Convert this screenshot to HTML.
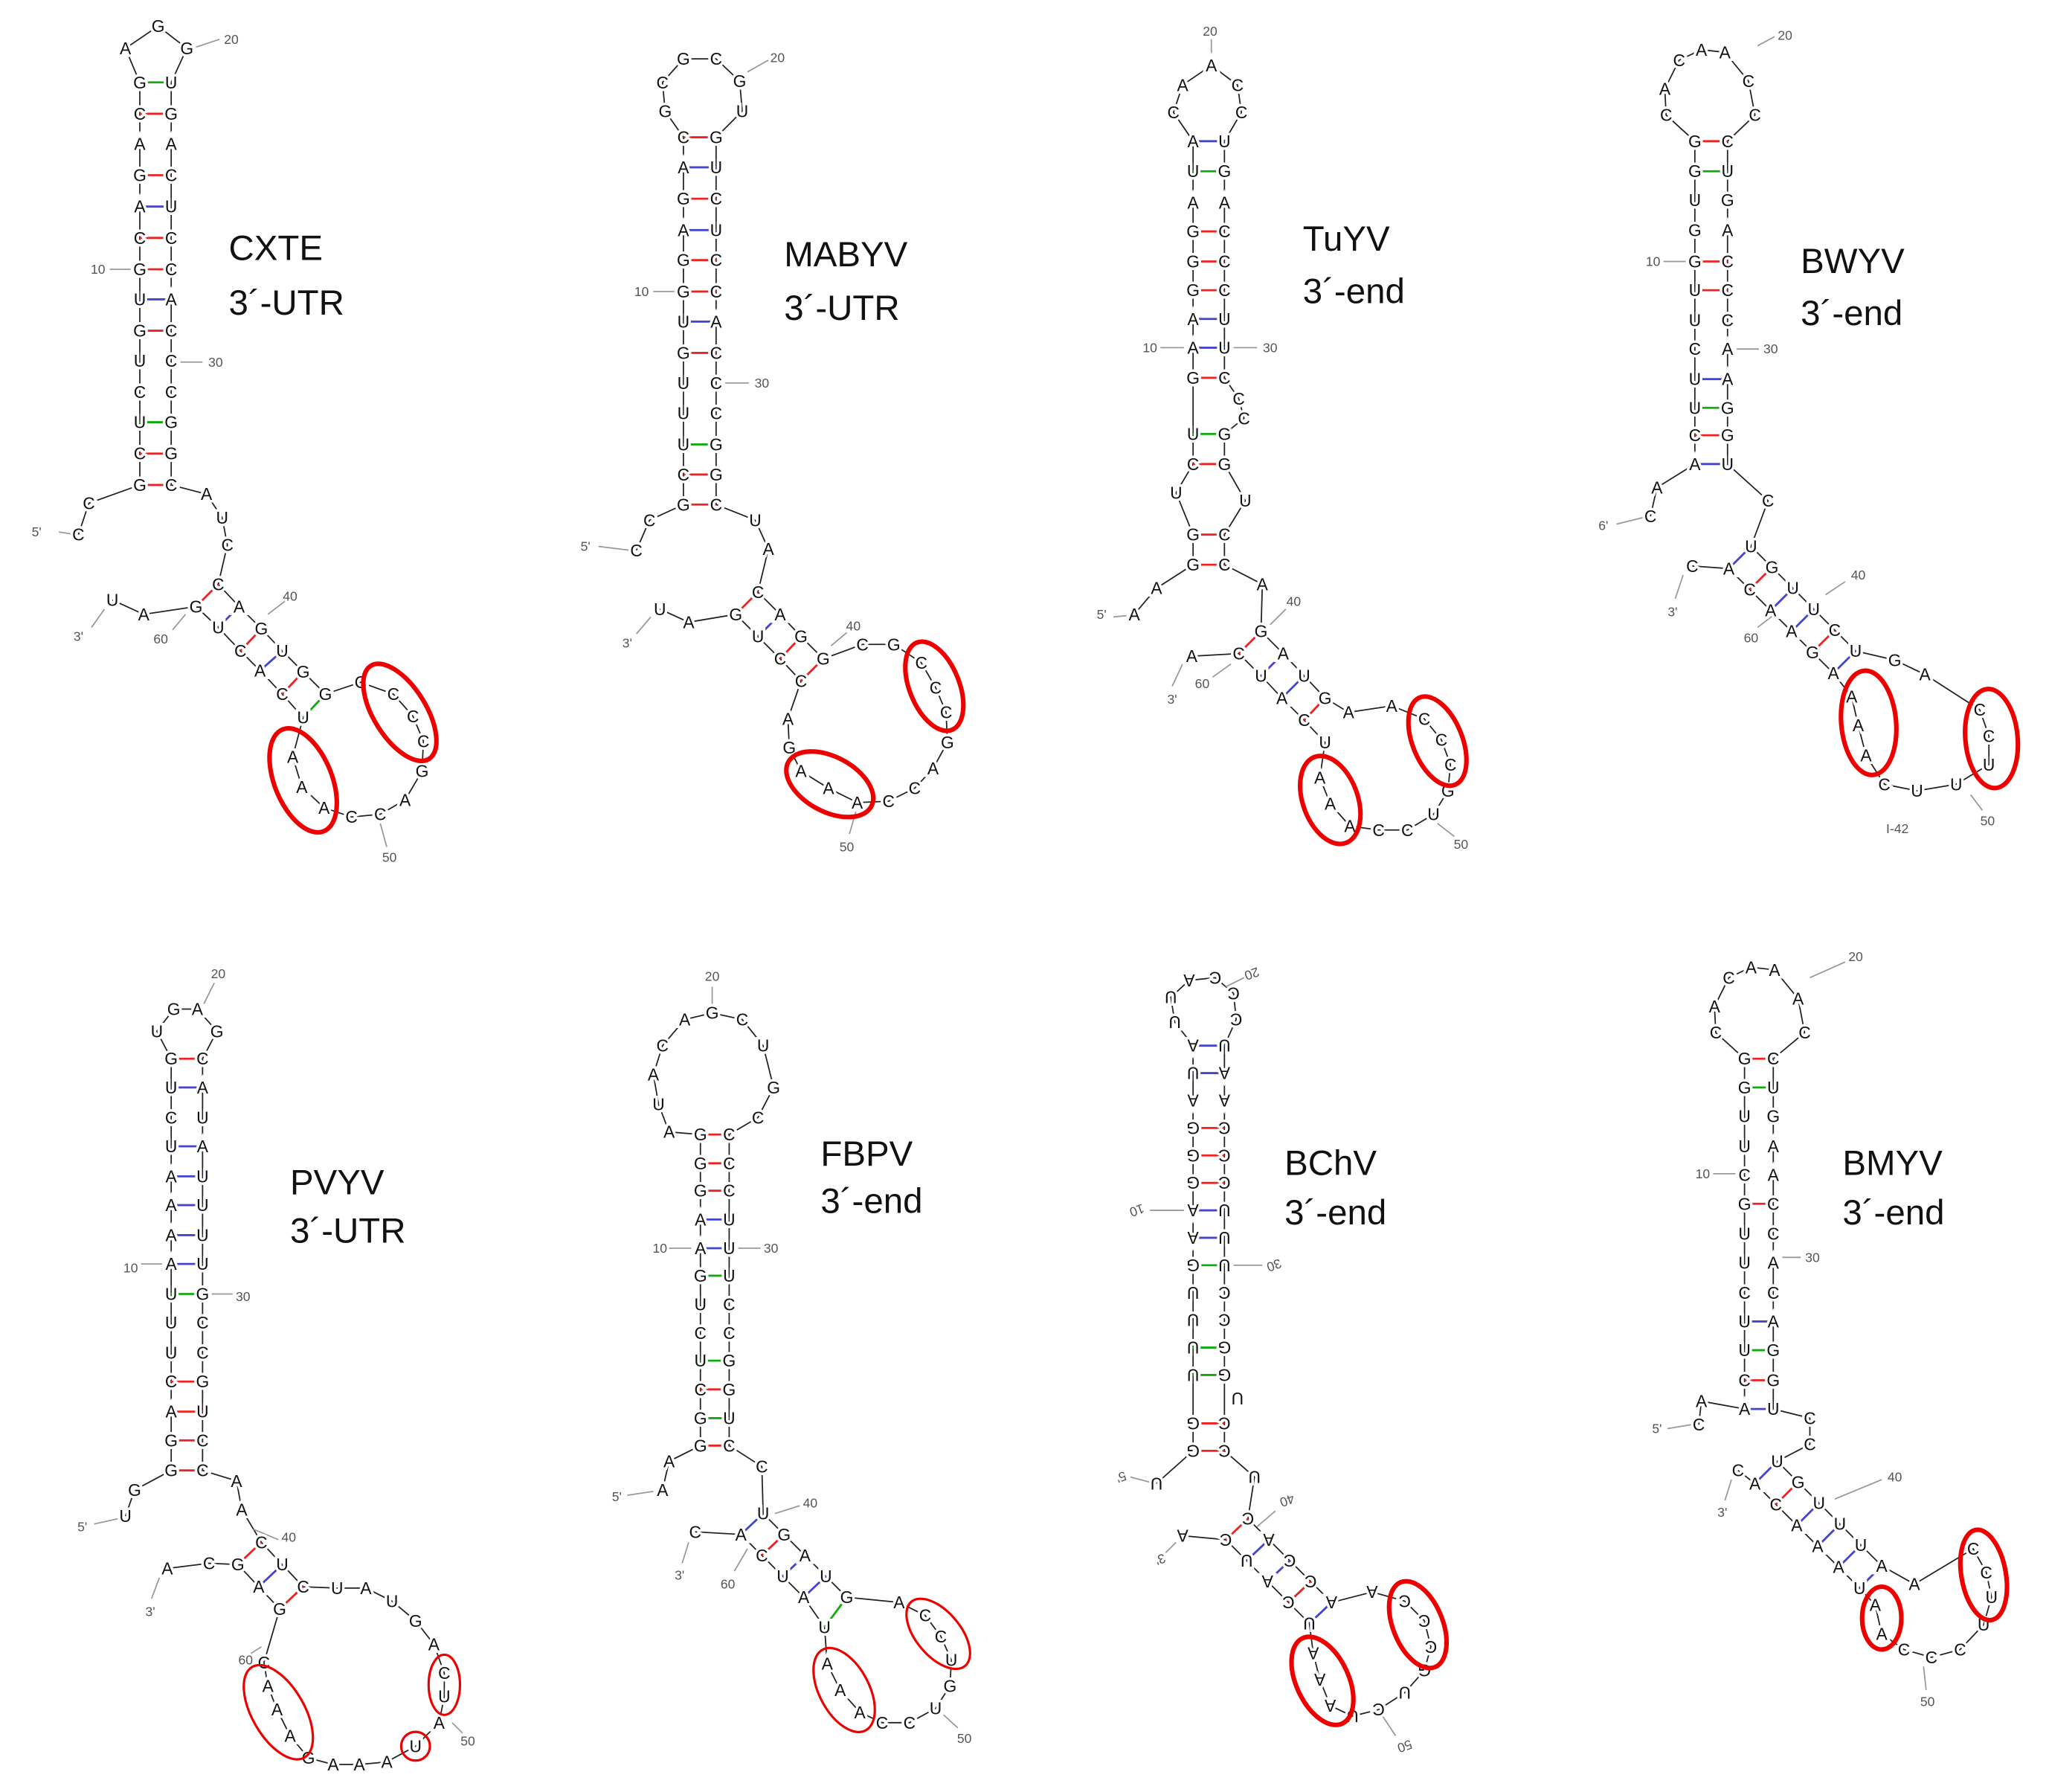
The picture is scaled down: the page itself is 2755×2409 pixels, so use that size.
<!DOCTYPE html>
<html><head><meta charset="utf-8"><style>
html,body{margin:0;padding:0;background:#fff}
svg{display:block}
text{font-family:"Liberation Sans",sans-serif;font-size:13px;text-anchor:middle;dominant-baseline:central;paint-order:stroke;stroke:#fff;stroke-width:4px;fill:#111}
text.n{font-size:10px;fill:#555;stroke:none}
text.t{font-size:27px;text-anchor:start;stroke:none;fill:#111}
.bb{fill:none;stroke:#222;stroke-width:1}
.tk{stroke:#999;stroke-width:1}
.r{stroke:#e22;stroke-width:1.6}.b{stroke:#44c;stroke-width:1.6}.g{stroke:#1a1;stroke-width:1.6}
.e{fill:none;stroke:#e00;stroke-width:3.5}.e2{fill:none;stroke:#e00;stroke-width:1.8}
</style></head><body>
<svg width="2755" height="2409" viewBox="0 0 1568 1371" xmlns="http://www.w3.org/2000/svg">

<!-- ============ CXTE ============ -->
<polyline class="bb" points="60,409 68,385 107,371 107,63 96,37 121,20 143,37 131,63 131,371 158,378 170,396 174,417 167,447 183,464 200,481 216,498 232,514 249,531 276,522 301,531 316,548 324,567 323,590 310,612 291,623 269,625 248,618 231,602 224,579 232,549 216,531 199,513 184,498 167,480 150,464 110,470 86,459"/>
<g>
<line class="g" x1="107" y1="63" x2="131" y2="63"/><line class="r" x1="107" y1="87" x2="131" y2="87"/>
<line class="r" x1="107" y1="134" x2="131" y2="134"/><line class="b" x1="107" y1="158" x2="131" y2="158"/>
<line class="r" x1="107" y1="182" x2="131" y2="182"/><line class="r" x1="107" y1="206" x2="131" y2="206"/>
<line class="b" x1="107" y1="229" x2="131" y2="229"/><line class="r" x1="107" y1="253" x2="131" y2="253"/>
<line class="g" x1="107" y1="323" x2="131" y2="323"/><line class="r" x1="107" y1="347" x2="131" y2="347"/>
<line class="r" x1="107" y1="371" x2="131" y2="371"/>
<line class="r" x1="150" y1="464" x2="167" y2="447"/><line class="b" x1="167" y1="480" x2="183" y2="464"/>
<line class="r" x1="184" y1="498" x2="200" y2="481"/><line class="b" x1="199" y1="513" x2="216" y2="498"/>
<line class="r" x1="216" y1="531" x2="232" y2="514"/><line class="g" x1="232" y1="549" x2="249" y2="531"/>
</g>
<line class="tk" x1="45" y1="407" x2="58" y2="409"/><line class="tk" x1="84" y1="206" x2="100" y2="206"/>
<line class="tk" x1="138" y1="277" x2="155" y2="277"/><line class="tk" x1="150" y1="36" x2="168" y2="30"/>
<line class="tk" x1="80" y1="466" x2="70" y2="480"/><line class="tk" x1="142" y1="470" x2="132" y2="482"/>
<line class="tk" x1="205" y1="470" x2="218" y2="460"/><line class="tk" x1="291" y1="630" x2="296" y2="648"/>
<text x="60" y="409">C</text><text x="68" y="385">C</text>
<text x="107" y="63">G</text><text x="107" y="87">C</text><text x="107" y="110">A</text><text x="107" y="134">G</text><text x="107" y="158">A</text><text x="107" y="182">C</text><text x="107" y="206">G</text><text x="107" y="229">U</text><text x="107" y="253">G</text><text x="107" y="276">U</text><text x="107" y="300">C</text><text x="107" y="323">U</text><text x="107" y="347">C</text><text x="107" y="371">G</text>
<text x="96" y="37">A</text><text x="121" y="20">G</text><text x="143" y="37">G</text>
<text x="131" y="63">U</text><text x="131" y="87">G</text><text x="131" y="110">A</text><text x="131" y="134">C</text><text x="131" y="158">U</text><text x="131" y="182">C</text><text x="131" y="206">C</text><text x="131" y="229">A</text><text x="131" y="253">C</text><text x="131" y="276">C</text><text x="131" y="300">C</text><text x="131" y="323">G</text><text x="131" y="347">G</text><text x="131" y="371">C</text>
<text x="158" y="378">A</text><text x="170" y="396">U</text><text x="174" y="417">C</text>
<text x="167" y="447">C</text><text x="183" y="464">A</text><text x="200" y="481">G</text><text x="216" y="498">U</text><text x="232" y="514">G</text><text x="249" y="531">G</text>
<text x="276" y="522">C</text><text x="301" y="531">C</text><text x="316" y="548">C</text><text x="324" y="567">C</text><text x="323" y="590">G</text><text x="310" y="612">A</text><text x="291" y="623">C</text><text x="269" y="625">C</text><text x="248" y="618">A</text><text x="231" y="602">A</text><text x="224" y="579">A</text>
<text x="232" y="549">U</text><text x="216" y="531">C</text><text x="199" y="513">A</text><text x="184" y="498">C</text><text x="167" y="480">U</text><text x="150" y="464">G</text><text x="110" y="470">A</text><text x="86" y="459">U</text>
<text class="n" x="28" y="407">5'</text><text class="n" x="75" y="206">10</text><text class="n" x="165" y="277">30</text><text class="n" x="177" y="30">20</text>
<text class="n" x="60" y="487">3'</text><text class="n" x="123" y="489">60</text><text class="n" x="222" y="456">40</text><text class="n" x="298" y="656">50</text>
<ellipse class="e" cx="306" cy="545" rx="20" ry="42" transform="rotate(-32 306 545)"/>
<ellipse class="e" cx="232" cy="597" rx="22" ry="42" transform="rotate(-22 232 597)"/>
<text class="t" x="175" y="190">CXTE</text><text class="t" x="175" y="232">3´-UTR</text>

<!-- ============ MABYV ============ -->
<polyline class="bb" points="487,421 497,398 523,386 523,105 509,85 507,63 523,45 548,45 566,62 568,85 548,105 548,386 578,398 588,420 580,453 597,470 613,487 630,504 660,493 684,493 705,507 716,526 724,545 725,568 714,588 700,603 680,613 656,614 634,603 613,590 604,572 603,550 613,521 597,504 580,487 563,470 527,476 505,466"/>
<g>
<line class="r" x1="523" y1="105" x2="548" y2="105"/><line class="b" x1="523" y1="128" x2="548" y2="128"/><line class="r" x1="523" y1="152" x2="548" y2="152"/><line class="b" x1="523" y1="176" x2="548" y2="176"/><line class="r" x1="523" y1="199" x2="548" y2="199"/><line class="r" x1="523" y1="223" x2="548" y2="223"/><line class="b" x1="523" y1="246" x2="548" y2="246"/><line class="r" x1="523" y1="270" x2="548" y2="270"/><line class="g" x1="523" y1="340" x2="548" y2="340"/><line class="r" x1="523" y1="363" x2="548" y2="363"/><line class="r" x1="523" y1="386" x2="548" y2="386"/>
<line class="r" x1="563" y1="470" x2="580" y2="453"/><line class="b" x1="580" y1="487" x2="597" y2="470"/><line class="r" x1="597" y1="504" x2="613" y2="487"/><line class="r" x1="613" y1="521" x2="630" y2="504"/>
</g>
<line class="tk" x1="458" y1="418" x2="482" y2="421"/><line class="tk" x1="500" y1="223" x2="516" y2="223"/><line class="tk" x1="555" y1="293" x2="573" y2="293"/><line class="tk" x1="572" y1="55" x2="588" y2="46"/><line class="tk" x1="498" y1="472" x2="487" y2="485"/><line class="tk" x1="636" y1="494" x2="648" y2="484"/><line class="tk" x1="655" y1="621" x2="650" y2="638"/>
<text x="487" y="421">C</text><text x="497" y="398">C</text>
<text x="523" y="105">C</text><text x="523" y="128">A</text><text x="523" y="152">G</text><text x="523" y="176">A</text><text x="523" y="199">G</text><text x="523" y="223">G</text><text x="523" y="246">U</text><text x="523" y="270">G</text><text x="523" y="293">U</text><text x="523" y="316">U</text><text x="523" y="340">U</text><text x="523" y="363">C</text><text x="523" y="386">G</text>
<text x="509" y="85">G</text><text x="507" y="63">C</text><text x="523" y="45">G</text><text x="548" y="45">C</text><text x="566" y="62">G</text><text x="568" y="85">U</text>
<text x="548" y="105">G</text><text x="548" y="128">U</text><text x="548" y="152">C</text><text x="548" y="176">U</text><text x="548" y="199">C</text><text x="548" y="223">C</text><text x="548" y="246">A</text><text x="548" y="270">C</text><text x="548" y="293">C</text><text x="548" y="316">C</text><text x="548" y="340">G</text><text x="548" y="363">G</text><text x="548" y="386">C</text>
<text x="578" y="398">U</text><text x="588" y="420">A</text><text x="580" y="453">C</text><text x="597" y="470">A</text><text x="613" y="487">G</text><text x="630" y="504">G</text>
<text x="660" y="493">C</text><text x="684" y="493">G</text><text x="705" y="507">C</text><text x="716" y="526">C</text><text x="724" y="545">C</text><text x="725" y="568">G</text><text x="714" y="588">A</text><text x="700" y="603">C</text><text x="680" y="613">C</text><text x="656" y="614">A</text><text x="634" y="603">A</text><text x="613" y="590">A</text><text x="604" y="572">G</text><text x="603" y="550">A</text>
<text x="613" y="521">C</text><text x="597" y="504">C</text><text x="580" y="487">U</text><text x="563" y="470">G</text><text x="527" y="476">A</text><text x="505" y="466">U</text>
<text class="n" x="448" y="418">5'</text><text class="n" x="491" y="223">10</text><text class="n" x="583" y="293">30</text><text class="n" x="595" y="44">20</text><text class="n" x="480" y="492">3'</text><text class="n" x="653" y="479">40</text><text class="n" x="648" y="648">50</text>
<ellipse class="e" cx="715" cy="525" rx="19" ry="36" transform="rotate(-22 715 525)"/>
<ellipse class="e" cx="635" cy="600" rx="36" ry="21" transform="rotate(28 635 600)"/>
<text class="t" x="600" y="195">MABYV</text><text class="t" x="600" y="236">3´-UTR</text>

<!-- ============ TuYV ============ -->
<polyline class="bb" points="868,470 885,450 913,432 913,409 900,377 913,355 913,108 898,86 905,65 927,50 947,65 950,86 937,108 937,289 948,305 952,320 937,332 937,355 953,383 937,409 937,432 966,447 965,483 982,500 998,517 1014,534 1032,545 1065,540 1090,550 1103,566 1110,585 1108,605 1097,623 1077,635 1055,635 1033,632 1018,615 1010,595 1014,568 998,551 981,534 965,517 948,500 912,502"/>
<g>
<line class="b" x1="913" y1="108" x2="937" y2="108"/><line class="g" x1="913" y1="131" x2="937" y2="131"/><line class="r" x1="913" y1="177" x2="937" y2="177"/><line class="r" x1="913" y1="200" x2="937" y2="200"/><line class="r" x1="913" y1="222" x2="937" y2="222"/><line class="b" x1="913" y1="244" x2="937" y2="244"/><line class="b" x1="913" y1="266" x2="937" y2="266"/><line class="r" x1="913" y1="289" x2="937" y2="289"/><line class="g" x1="913" y1="332" x2="937" y2="332"/><line class="r" x1="913" y1="355" x2="937" y2="355"/><line class="r" x1="913" y1="409" x2="937" y2="409"/><line class="r" x1="913" y1="432" x2="937" y2="432"/>
<line class="r" x1="948" y1="500" x2="965" y2="483"/><line class="b" x1="965" y1="517" x2="982" y2="500"/><line class="b" x1="981" y1="534" x2="998" y2="517"/><line class="r" x1="998" y1="551" x2="1014" y2="534"/>
</g>
<line class="tk" x1="852" y1="472" x2="862" y2="471"/><line class="tk" x1="888" y1="266" x2="906" y2="266"/><line class="tk" x1="944" y1="266" x2="962" y2="266"/><line class="tk" x1="927" y1="30" x2="927" y2="43"/><line class="tk" x1="905" y1="508" x2="897" y2="525"/><line class="tk" x1="942" y1="508" x2="928" y2="518"/><line class="tk" x1="972" y1="478" x2="984" y2="466"/><line class="tk" x1="1100" y1="630" x2="1113" y2="640"/>
<text x="868" y="470">A</text><text x="885" y="450">A</text>
<text x="913" y="108">A</text><text x="913" y="131">U</text><text x="913" y="155">A</text><text x="913" y="177">G</text><text x="913" y="200">G</text><text x="913" y="222">G</text><text x="913" y="244">A</text><text x="913" y="266">A</text><text x="913" y="289">G</text><text x="913" y="332">U</text><text x="913" y="355">C</text><text x="900" y="377">U</text><text x="913" y="409">G</text><text x="913" y="432">G</text>
<text x="898" y="86">C</text><text x="905" y="65">A</text><text x="927" y="50">A</text><text x="947" y="65">C</text><text x="950" y="86">C</text>
<text x="937" y="108">U</text><text x="937" y="131">G</text><text x="937" y="155">A</text><text x="937" y="177">C</text><text x="937" y="200">C</text><text x="937" y="222">C</text><text x="937" y="244">U</text><text x="937" y="266">U</text><text x="937" y="289">C</text><text x="948" y="305">C</text><text x="952" y="320">C</text><text x="937" y="332">G</text><text x="937" y="355">G</text><text x="953" y="383">U</text><text x="937" y="409">C</text><text x="937" y="432">C</text>
<text x="966" y="447">A</text><text x="965" y="483">G</text><text x="982" y="500">A</text><text x="998" y="517">U</text><text x="1014" y="534">G</text><text x="1032" y="545">A</text>
<text x="1065" y="540">A</text><text x="1090" y="550">C</text><text x="1103" y="566">C</text><text x="1110" y="585">C</text><text x="1108" y="605">G</text><text x="1097" y="623">U</text><text x="1077" y="635">C</text><text x="1055" y="635">C</text><text x="1033" y="632">A</text><text x="1018" y="615">A</text><text x="1010" y="595">A</text>
<text x="1014" y="568">U</text><text x="998" y="551">C</text><text x="981" y="534">A</text><text x="965" y="517">U</text><text x="948" y="500">C</text><text x="912" y="502">A</text>
<text class="n" x="843" y="470">5'</text><text class="n" x="880" y="266">10</text><text class="n" x="972" y="266">30</text><text class="n" x="926" y="24">20</text><text class="n" x="897" y="535">3'</text><text class="n" x="920" y="523">60</text><text class="n" x="990" y="460">40</text><text class="n" x="1118" y="646">50</text>
<ellipse class="e" cx="1100" cy="567" rx="19" ry="36" transform="rotate(-22 1100 567)"/>
<ellipse class="e" cx="1018" cy="612" rx="21" ry="35" transform="rotate(-20 1018 612)"/>
<text class="t" x="997" y="183">TuYV</text><text class="t" x="997" y="223">3´-end</text>

<!-- ============ BWYV ============ -->
<polyline class="bb" points="1263,395 1268,373 1297,355 1297,108 1275,88 1274,68 1285,46 1302,38 1320,40 1338,62 1343,88 1322,108 1322,355 1353,383 1340,418 1356,434 1372,450 1388,466 1404,482 1420,498 1450,505 1473,516 1515,543 1522,563 1522,585 1497,600 1467,605 1442,600 1428,578 1422,555 1417,533 1403,515 1387,499 1371,483 1355,467 1339,451 1323,435 1295,433"/>
<g>
<line class="r" x1="1297" y1="108" x2="1322" y2="108"/><line class="g" x1="1297" y1="131" x2="1322" y2="131"/><line class="r" x1="1297" y1="200" x2="1322" y2="200"/><line class="r" x1="1297" y1="222" x2="1322" y2="222"/><line class="b" x1="1297" y1="290" x2="1322" y2="290"/><line class="g" x1="1297" y1="312" x2="1322" y2="312"/><line class="r" x1="1297" y1="333" x2="1322" y2="333"/><line class="b" x1="1297" y1="355" x2="1322" y2="355"/>
<line class="b" x1="1323" y1="435" x2="1340" y2="418"/><line class="r" x1="1339" y1="451" x2="1356" y2="434"/><line class="b" x1="1355" y1="467" x2="1372" y2="450"/><line class="b" x1="1371" y1="483" x2="1388" y2="466"/><line class="r" x1="1387" y1="499" x2="1404" y2="482"/><line class="b" x1="1403" y1="515" x2="1420" y2="498"/>
</g>
<line class="tk" x1="1237" y1="401" x2="1257" y2="396"/><line class="tk" x1="1273" y1="200" x2="1290" y2="200"/><line class="tk" x1="1329" y1="267" x2="1346" y2="267"/><line class="tk" x1="1345" y1="35" x2="1358" y2="28"/><line class="tk" x1="1288" y1="440" x2="1282" y2="458"/><line class="tk" x1="1358" y1="470" x2="1345" y2="480"/><line class="tk" x1="1397" y1="455" x2="1412" y2="445"/><line class="tk" x1="1508" y1="608" x2="1517" y2="620"/>
<text x="1263" y="395">C</text><text x="1268" y="373">A</text>
<text x="1297" y="108">G</text><text x="1297" y="131">G</text><text x="1297" y="153">U</text><text x="1297" y="176">G</text><text x="1297" y="200">G</text><text x="1297" y="222">U</text><text x="1297" y="245">U</text><text x="1297" y="267">C</text><text x="1297" y="290">U</text><text x="1297" y="312">U</text><text x="1297" y="333">C</text><text x="1297" y="355">A</text>
<text x="1275" y="88">C</text><text x="1274" y="68">A</text><text x="1285" y="46">C</text><text x="1302" y="38">A</text><text x="1320" y="40">A</text><text x="1338" y="62">C</text><text x="1343" y="88">C</text>
<text x="1322" y="108">C</text><text x="1322" y="131">U</text><text x="1322" y="153">G</text><text x="1322" y="176">A</text><text x="1322" y="200">C</text><text x="1322" y="222">C</text><text x="1322" y="245">C</text><text x="1322" y="267">A</text><text x="1322" y="290">A</text><text x="1322" y="312">G</text><text x="1322" y="333">G</text><text x="1322" y="355">U</text>
<text x="1353" y="383">C</text><text x="1340" y="418">U</text><text x="1356" y="434">G</text><text x="1372" y="450">U</text><text x="1388" y="466">U</text><text x="1404" y="482">C</text><text x="1420" y="498">U</text>
<text x="1450" y="505">G</text><text x="1473" y="516">A</text><text x="1515" y="543">C</text><text x="1522" y="563">C</text><text x="1522" y="585">U</text><text x="1497" y="600">U</text><text x="1467" y="605">U</text><text x="1442" y="600">C</text><text x="1428" y="578">A</text><text x="1422" y="555">A</text><text x="1417" y="533">A</text>
<text x="1403" y="515">A</text><text x="1387" y="499">G</text><text x="1371" y="483">A</text><text x="1355" y="467">A</text><text x="1339" y="451">C</text><text x="1323" y="435">A</text><text x="1295" y="433">C</text>
<text class="n" x="1227" y="402">6'</text><text class="n" x="1265" y="200">10</text><text class="n" x="1355" y="267">30</text><text class="n" x="1366" y="27">20</text><text class="n" x="1280" y="468">3'</text><text class="n" x="1340" y="488">60</text><text class="n" x="1422" y="440">40</text><text class="n" x="1521" y="628">50</text><text class="n" x="1452" y="634">I-42</text>
<ellipse class="e" cx="1524" cy="565" rx="20" ry="38" transform="rotate(-5 1524 565)"/>
<ellipse class="e" cx="1430" cy="553" rx="21" ry="40" transform="rotate(-5 1430 553)"/>
<text class="t" x="1378" y="200">BWYV</text><text class="t" x="1378" y="240">3´-end</text>

<!-- ============ PVYV ============ -->
<polyline class="bb" points="96,1160 103,1140 131,1125 131,810 120,789 133,772 151,772 166,789 155,810 155,1125 181,1133 185,1155 200,1180 216,1197 232,1214 258,1215 280,1215 300,1225 318,1240 332,1258 340,1280 340,1298 336,1318 318,1336 296,1348 275,1350 255,1350 236,1345 222,1328 212,1308 205,1290 202,1272 214,1231 198,1214 182,1197 160,1196 128,1200"/>
<g>
<line class="r" x1="131" y1="810" x2="155" y2="810"/><line class="b" x1="131" y1="832" x2="155" y2="832"/><line class="b" x1="131" y1="877" x2="155" y2="877"/><line class="b" x1="131" y1="900" x2="155" y2="900"/><line class="b" x1="131" y1="922" x2="155" y2="922"/><line class="b" x1="131" y1="945" x2="155" y2="945"/><line class="b" x1="131" y1="967" x2="155" y2="967"/><line class="g" x1="131" y1="990" x2="155" y2="990"/><line class="r" x1="131" y1="1057" x2="155" y2="1057"/><line class="r" x1="131" y1="1080" x2="155" y2="1080"/><line class="r" x1="131" y1="1102" x2="155" y2="1102"/><line class="r" x1="131" y1="1125" x2="155" y2="1125"/>
<line class="r" x1="182" y1="1197" x2="200" y2="1180"/><line class="b" x1="198" y1="1214" x2="216" y2="1197"/><line class="r" x1="214" y1="1231" x2="232" y2="1214"/>
</g>
<line class="tk" x1="72" y1="1166" x2="90" y2="1162"/><line class="tk" x1="108" y1="967" x2="124" y2="967"/><line class="tk" x1="162" y1="990" x2="178" y2="990"/><line class="tk" x1="156" y1="768" x2="164" y2="752"/><line class="tk" x1="122" y1="1207" x2="116" y2="1223"/><line class="tk" x1="200" y1="1260" x2="192" y2="1265"/><line class="tk" x1="194" y1="1170" x2="213" y2="1178"/><line class="tk" x1="346" y1="1318" x2="354" y2="1326"/>
<text x="96" y="1160">U</text><text x="103" y="1140">G</text>
<text x="131" y="810">G</text><text x="131" y="832">U</text><text x="131" y="855">C</text><text x="131" y="877">U</text><text x="131" y="900">A</text><text x="131" y="922">A</text><text x="131" y="945">A</text><text x="131" y="967">A</text><text x="131" y="990">U</text><text x="131" y="1012">U</text><text x="131" y="1035">U</text><text x="131" y="1057">C</text><text x="131" y="1080">A</text><text x="131" y="1102">G</text><text x="131" y="1125">G</text>
<text x="120" y="789">U</text><text x="133" y="772">G</text><text x="151" y="772">A</text><text x="166" y="789">G</text>
<text x="155" y="810">C</text><text x="155" y="832">A</text><text x="155" y="855">U</text><text x="155" y="877">A</text><text x="155" y="900">U</text><text x="155" y="922">U</text><text x="155" y="945">U</text><text x="155" y="967">U</text><text x="155" y="990">G</text><text x="155" y="1012">C</text><text x="155" y="1035">C</text><text x="155" y="1057">G</text><text x="155" y="1080">U</text><text x="155" y="1102">C</text><text x="155" y="1125">C</text>
<text x="181" y="1133">A</text><text x="185" y="1155">A</text><text x="200" y="1180">C</text><text x="216" y="1197">U</text><text x="232" y="1214">C</text>
<text x="258" y="1215">U</text><text x="280" y="1215">A</text><text x="300" y="1225">U</text><text x="318" y="1240">G</text><text x="332" y="1258">A</text><text x="340" y="1280">C</text><text x="340" y="1298">U</text><text x="336" y="1318">A</text><text x="318" y="1336">U</text><text x="296" y="1348">A</text><text x="275" y="1350">A</text><text x="255" y="1350">A</text><text x="236" y="1345">G</text><text x="222" y="1328">A</text><text x="212" y="1308">A</text><text x="205" y="1290">A</text><text x="202" y="1272">C</text>
<text x="214" y="1231">G</text><text x="198" y="1214">A</text><text x="182" y="1197">G</text><text x="160" y="1196">C</text><text x="128" y="1200">A</text>
<text class="n" x="63" y="1168">5'</text><text class="n" x="100" y="970">10</text><text class="n" x="186" y="992">30</text><text class="n" x="167" y="745">20</text><text class="n" x="115" y="1233">3'</text><text class="n" x="188" y="1270">60</text><text class="n" x="221" y="1176">40</text><text class="n" x="358" y="1332">50</text>
<ellipse class="e2" cx="340" cy="1289" rx="12" ry="23"/>
<circle class="e2" cx="318" cy="1336" r="11"/>
<ellipse class="e2" cx="213" cy="1310" rx="20" ry="40" transform="rotate(-30 213 1310)"/>
<text class="t" x="222" y="905">PVYV</text><text class="t" x="222" y="942">3´-UTR</text>

<!-- ============ FBPV ============ -->
<polyline class="bb" points="507,1140 512,1118 536,1106 536,868 512,866 504,845 500,822 507,800 524,780 545,775 568,780 584,800 592,832 580,855 558,868 558,1106 583,1122 584,1158 600,1174 616,1190 632,1206 648,1222 688,1226 708,1236 720,1252 728,1270 727,1290 716,1307 696,1318 675,1318 658,1310 643,1293 633,1273 631,1245 615,1222 599,1206 583,1190 567,1174 532,1172"/>
<g>
<line class="r" x1="536" y1="868" x2="558" y2="868"/><line class="r" x1="536" y1="890" x2="558" y2="890"/><line class="r" x1="536" y1="911" x2="558" y2="911"/><line class="b" x1="536" y1="933" x2="558" y2="933"/><line class="b" x1="536" y1="955" x2="558" y2="955"/><line class="g" x1="536" y1="976" x2="558" y2="976"/><line class="g" x1="536" y1="1041" x2="558" y2="1041"/><line class="r" x1="536" y1="1063" x2="558" y2="1063"/><line class="g" x1="536" y1="1085" x2="558" y2="1085"/><line class="r" x1="536" y1="1106" x2="558" y2="1106"/>
<line class="b" x1="567" y1="1174" x2="584" y2="1158"/><line class="r" x1="583" y1="1190" x2="600" y2="1174"/><line class="b" x1="599" y1="1206" x2="616" y2="1190"/><line class="b" x1="615" y1="1222" x2="632" y2="1206"/><line class="g" x1="631" y1="1245" x2="648" y2="1222"/>
</g>
<line class="tk" x1="480" y1="1144" x2="500" y2="1141"/><line class="tk" x1="512" y1="955" x2="529" y2="955"/><line class="tk" x1="565" y1="955" x2="582" y2="955"/><line class="tk" x1="545" y1="755" x2="545" y2="768"/><line class="tk" x1="527" y1="1180" x2="522" y2="1196"/><line class="tk" x1="572" y1="1185" x2="562" y2="1202"/><line class="tk" x1="593" y1="1158" x2="612" y2="1152"/><line class="tk" x1="722" y1="1312" x2="733" y2="1322"/>
<text x="507" y="1140">A</text><text x="512" y="1118">A</text>
<text x="536" y="868">G</text><text x="536" y="890">G</text><text x="536" y="911">G</text><text x="536" y="933">A</text><text x="536" y="955">A</text><text x="536" y="976">G</text><text x="536" y="998">U</text><text x="536" y="1020">C</text><text x="536" y="1041">U</text><text x="536" y="1063">C</text><text x="536" y="1085">G</text><text x="536" y="1106">G</text>
<text x="512" y="866">A</text><text x="504" y="845">U</text><text x="500" y="822">A</text><text x="507" y="800">C</text><text x="524" y="780">A</text><text x="545" y="775">G</text><text x="568" y="780">C</text><text x="584" y="800">U</text><text x="592" y="832">G</text><text x="580" y="855">C</text>
<text x="558" y="868">C</text><text x="558" y="890">C</text><text x="558" y="911">C</text><text x="558" y="933">U</text><text x="558" y="955">U</text><text x="558" y="976">U</text><text x="558" y="998">C</text><text x="558" y="1020">C</text><text x="558" y="1041">G</text><text x="558" y="1063">G</text><text x="558" y="1085">U</text><text x="558" y="1106">C</text>
<text x="583" y="1122">C</text><text x="584" y="1158">U</text><text x="600" y="1174">G</text><text x="616" y="1190">A</text><text x="632" y="1206">U</text><text x="648" y="1222">G</text>
<text x="688" y="1226">A</text><text x="708" y="1236">C</text><text x="720" y="1252">C</text><text x="728" y="1270">U</text><text x="727" y="1290">G</text><text x="716" y="1307">U</text><text x="696" y="1318">C</text><text x="675" y="1318">C</text><text x="658" y="1310">A</text><text x="643" y="1293">A</text><text x="633" y="1273">A</text>
<text x="631" y="1245">U</text><text x="615" y="1222">A</text><text x="599" y="1206">U</text><text x="583" y="1190">C</text><text x="567" y="1174">A</text><text x="532" y="1172">C</text>
<text class="n" x="472" y="1145">5'</text><text class="n" x="505" y="955">10</text><text class="n" x="590" y="955">30</text><text class="n" x="545" y="747">20</text><text class="n" x="520" y="1205">3'</text><text class="n" x="557" y="1212">60</text><text class="n" x="620" y="1150">40</text><text class="n" x="738" y="1330">50</text>
<ellipse class="e2" cx="718" cy="1250" rx="17" ry="32" transform="rotate(-40 718 1250)"/>
<ellipse class="e2" cx="646" cy="1293" rx="19" ry="35" transform="rotate(-28 646 1293)"/>
<text class="t" x="628" y="883">FBPV</text><text class="t" x="628" y="919">3´-end</text>

<!-- ============ BChV (upside-down letters) ============ -->
<polyline class="bb" points="885,1135 913,1110 913,800 899,782 896,763 910,750 930,748 944,760 946,780 937,800 937,1110 960,1130 955,1162 971,1178 987,1194 1003,1210 1019,1226 1050,1218 1075,1225 1090,1240 1095,1260 1090,1278 1075,1295 1055,1308 1035,1313 1018,1305 1010,1285 1005,1265 1002,1242 986,1226 970,1210 954,1194 938,1178 905,1175"/>
<g>
<line class="b" x1="913" y1="800" x2="937" y2="800"/><line class="b" x1="913" y1="821" x2="937" y2="821"/><line class="r" x1="913" y1="863" x2="937" y2="863"/><line class="r" x1="913" y1="884" x2="937" y2="884"/><line class="r" x1="913" y1="905" x2="937" y2="905"/><line class="b" x1="913" y1="926" x2="937" y2="926"/><line class="b" x1="913" y1="947" x2="937" y2="947"/><line class="g" x1="913" y1="968" x2="937" y2="968"/><line class="g" x1="913" y1="1031" x2="937" y2="1031"/><line class="g" x1="913" y1="1052" x2="937" y2="1052"/><line class="r" x1="913" y1="1089" x2="937" y2="1089"/><line class="r" x1="913" y1="1110" x2="937" y2="1110"/>
<line class="r" x1="938" y1="1178" x2="955" y2="1162"/><line class="b" x1="954" y1="1194" x2="971" y2="1178"/><line class="b" x1="970" y1="1210" x2="987" y2="1194"/><line class="r" x1="986" y1="1226" x2="1003" y2="1210"/><line class="b" x1="1002" y1="1242" x2="1019" y2="1226"/>
</g>
<line class="tk" x1="865" y1="1130" x2="880" y2="1134"/><line class="tk" x1="880" y1="926" x2="906" y2="926"/><line class="tk" x1="944" y1="968" x2="966" y2="968"/><line class="tk" x1="938" y1="755" x2="952" y2="748"/><line class="tk" x1="900" y1="1180" x2="892" y2="1188"/><line class="tk" x1="962" y1="1168" x2="976" y2="1156"/><line class="tk" x1="1058" y1="1313" x2="1068" y2="1328"/>
<g>
<text x="885" y="1135" transform="rotate(180 885 1135)">U</text>
<text x="913" y="800" transform="rotate(180 913 800)">A</text><text x="913" y="821" transform="rotate(180 913 821)">U</text><text x="913" y="842" transform="rotate(180 913 842)">A</text><text x="913" y="863" transform="rotate(180 913 863)">G</text><text x="913" y="884" transform="rotate(180 913 884)">G</text><text x="913" y="905" transform="rotate(180 913 905)">G</text><text x="913" y="926" transform="rotate(180 913 926)">A</text><text x="913" y="947" transform="rotate(180 913 947)">A</text><text x="913" y="968" transform="rotate(180 913 968)">G</text><text x="913" y="989" transform="rotate(180 913 989)">U</text><text x="913" y="1010" transform="rotate(180 913 1010)">U</text><text x="913" y="1031" transform="rotate(180 913 1031)">U</text><text x="913" y="1052" transform="rotate(180 913 1052)">U</text><text x="913" y="1089" transform="rotate(180 913 1089)">G</text><text x="913" y="1110" transform="rotate(180 913 1110)">G</text>
<text x="899" y="782" transform="rotate(180 899 782)">U</text><text x="896" y="763" transform="rotate(180 896 763)">U</text><text x="910" y="750" transform="rotate(180 910 750)">A</text><text x="930" y="748" transform="rotate(180 930 748)">C</text><text x="944" y="760" transform="rotate(180 944 760)">C</text><text x="946" y="780" transform="rotate(180 946 780)">C</text>
<text x="937" y="800" transform="rotate(180 937 800)">U</text><text x="937" y="821" transform="rotate(180 937 821)">A</text><text x="937" y="842" transform="rotate(180 937 842)">A</text><text x="937" y="863" transform="rotate(180 937 863)">C</text><text x="937" y="884" transform="rotate(180 937 884)">C</text><text x="937" y="905" transform="rotate(180 937 905)">C</text><text x="937" y="926" transform="rotate(180 937 926)">U</text><text x="937" y="947" transform="rotate(180 937 947)">U</text><text x="937" y="968" transform="rotate(180 937 968)">U</text><text x="937" y="989" transform="rotate(180 937 989)">C</text><text x="937" y="1010" transform="rotate(180 937 1010)">C</text><text x="937" y="1031" transform="rotate(180 937 1031)">G</text><text x="937" y="1052" transform="rotate(180 937 1052)">G</text><text x="947" y="1070" transform="rotate(180 947 1070)">U</text><text x="937" y="1089" transform="rotate(180 937 1089)">C</text><text x="937" y="1110" transform="rotate(180 937 1110)">C</text>
<text x="960" y="1130" transform="rotate(180 960 1130)">U</text>
<text x="955" y="1162" transform="rotate(180 955 1162)">C</text><text x="971" y="1178" transform="rotate(180 971 1178)">A</text><text x="987" y="1194" transform="rotate(180 987 1194)">C</text><text x="1003" y="1210" transform="rotate(180 1003 1210)">C</text><text x="1019" y="1226" transform="rotate(180 1019 1226)">A</text>
<text x="1050" y="1218" transform="rotate(180 1050 1218)">A</text><text x="1075" y="1225" transform="rotate(180 1075 1225)">C</text><text x="1090" y="1240" transform="rotate(180 1090 1240)">C</text><text x="1095" y="1260" transform="rotate(180 1095 1260)">C</text><text x="1090" y="1278" transform="rotate(180 1090 1278)">G</text><text x="1075" y="1295" transform="rotate(180 1075 1295)">U</text><text x="1055" y="1308" transform="rotate(180 1055 1308)">C</text><text x="1035" y="1313" transform="rotate(180 1035 1313)">U</text><text x="1018" y="1305" transform="rotate(180 1018 1305)">A</text><text x="1010" y="1285" transform="rotate(180 1010 1285)">A</text><text x="1005" y="1265" transform="rotate(180 1005 1265)">A</text>
<text x="1002" y="1242" transform="rotate(180 1002 1242)">U</text><text x="986" y="1226" transform="rotate(180 986 1226)">C</text><text x="970" y="1210" transform="rotate(180 970 1210)">A</text><text x="954" y="1194" transform="rotate(180 954 1194)">U</text><text x="938" y="1178" transform="rotate(180 938 1178)">C</text><text x="905" y="1175" transform="rotate(180 905 1175)">A</text>
<text class="n" x="858" y="1130" transform="rotate(160 858 1130)">5'</text><text class="n" x="870" y="926" transform="rotate(160 870 926)">10</text><text class="n" x="975" y="968" transform="rotate(160 975 968)">30</text><text class="n" x="958" y="745" transform="rotate(160 958 745)">20</text><text class="n" x="888" y="1193" transform="rotate(160 888 1193)">3'</text><text class="n" x="985" y="1148" transform="rotate(160 985 1148)">40</text><text class="n" x="1075" y="1336" transform="rotate(160 1075 1336)">50</text>
</g>
<ellipse class="e" cx="1085" cy="1243" rx="19" ry="35" transform="rotate(-22 1085 1243)"/>
<ellipse class="e" cx="1012" cy="1286" rx="20" ry="36" transform="rotate(-25 1012 1286)"/>
<text class="t" x="983" y="890">BChV</text><text class="t" x="983" y="928">3´-end</text>

<!-- ============ BMYV ============ -->
<polyline class="bb" points="1300,1090 1302,1072 1335,1078 1335,810 1313,790 1312,770 1323,748 1340,740 1358,742 1376,764 1381,790 1357,810 1357,1078 1385,1085 1385,1105 1360,1118 1376,1134 1392,1150 1408,1166 1424,1182 1440,1198 1465,1212 1510,1185 1520,1203 1524,1222 1518,1243 1500,1262 1478,1268 1457,1262 1440,1250 1435,1228 1423,1215 1407,1199 1391,1183 1375,1167 1359,1151 1343,1135 1330,1125"/>
<g>
<line class="r" x1="1335" y1="810" x2="1357" y2="810"/><line class="g" x1="1335" y1="832" x2="1357" y2="832"/><line class="r" x1="1335" y1="921" x2="1357" y2="921"/><line class="b" x1="1335" y1="1011" x2="1357" y2="1011"/><line class="g" x1="1335" y1="1033" x2="1357" y2="1033"/><line class="r" x1="1335" y1="1056" x2="1357" y2="1056"/><line class="b" x1="1335" y1="1078" x2="1357" y2="1078"/>
<line class="b" x1="1343" y1="1135" x2="1360" y2="1118"/><line class="r" x1="1359" y1="1151" x2="1376" y2="1134"/><line class="b" x1="1375" y1="1167" x2="1392" y2="1150"/><line class="b" x1="1391" y1="1183" x2="1408" y2="1166"/><line class="b" x1="1407" y1="1199" x2="1424" y2="1182"/><line class="b" x1="1423" y1="1215" x2="1440" y2="1198"/>
</g>
<line class="tk" x1="1276" y1="1093" x2="1294" y2="1090"/><line class="tk" x1="1311" y1="898" x2="1328" y2="898"/><line class="tk" x1="1364" y1="962" x2="1378" y2="962"/><line class="tk" x1="1385" y1="748" x2="1412" y2="736"/><line class="tk" x1="1325" y1="1132" x2="1320" y2="1148"/><line class="tk" x1="1404" y1="1147" x2="1440" y2="1132"/><line class="tk" x1="1472" y1="1275" x2="1474" y2="1293"/>
<text x="1300" y="1090">C</text><text x="1302" y="1072">A</text>
<text x="1335" y="810">G</text><text x="1335" y="832">G</text><text x="1335" y="854">U</text><text x="1335" y="877">U</text><text x="1335" y="899">C</text><text x="1335" y="921">G</text><text x="1335" y="944">U</text><text x="1335" y="966">U</text><text x="1335" y="989">C</text><text x="1335" y="1011">U</text><text x="1335" y="1033">U</text><text x="1335" y="1056">C</text><text x="1335" y="1078">A</text>
<text x="1313" y="790">C</text><text x="1312" y="770">A</text><text x="1323" y="748">C</text><text x="1340" y="740">A</text><text x="1358" y="742">A</text><text x="1376" y="764">A</text><text x="1381" y="790">C</text>
<text x="1357" y="810">C</text><text x="1357" y="832">U</text><text x="1357" y="854">G</text><text x="1357" y="877">A</text><text x="1357" y="899">A</text><text x="1357" y="921">C</text><text x="1357" y="944">C</text><text x="1357" y="966">A</text><text x="1357" y="989">C</text><text x="1357" y="1011">A</text><text x="1357" y="1033">G</text><text x="1357" y="1056">G</text><text x="1357" y="1078">U</text>
<text x="1385" y="1085">C</text><text x="1385" y="1105">C</text><text x="1360" y="1118">U</text><text x="1376" y="1134">G</text><text x="1392" y="1150">U</text><text x="1408" y="1166">U</text><text x="1424" y="1182">U</text><text x="1440" y="1198">A</text>
<text x="1465" y="1212">A</text><text x="1510" y="1185">C</text><text x="1520" y="1203">C</text><text x="1524" y="1222">U</text><text x="1518" y="1243">U</text><text x="1500" y="1262">C</text><text x="1478" y="1268">C</text><text x="1457" y="1262">C</text><text x="1440" y="1250">A</text><text x="1435" y="1228">A</text>
<text x="1423" y="1215">U</text><text x="1407" y="1199">A</text><text x="1391" y="1183">A</text><text x="1375" y="1167">A</text><text x="1359" y="1151">C</text><text x="1343" y="1135">A</text><text x="1330" y="1125">C</text>
<text class="n" x="1268" y="1093">5'</text><text class="n" x="1303" y="898">10</text><text class="n" x="1387" y="962">30</text><text class="n" x="1420" y="732">20</text><text class="n" x="1318" y="1157">3'</text><text class="n" x="1450" y="1130">40</text><text class="n" x="1475" y="1302">50</text>
<ellipse class="e" cx="1518" cy="1205" rx="17" ry="35" transform="rotate(-10 1518 1205)"/>
<ellipse class="e" cx="1440" cy="1238" rx="15" ry="24"/>
<text class="t" x="1410" y="890">BMYV</text><text class="t" x="1410" y="928">3´-end</text>
</svg>
</body></html>
